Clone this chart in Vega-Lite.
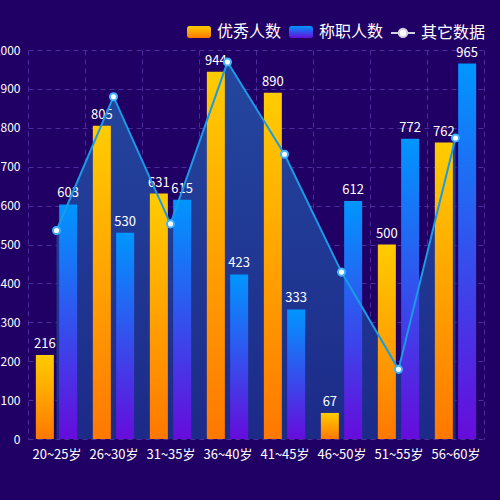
{
  "$schema": "https://vega.github.io/schema/vega-lite/v6.json",
  "width": 456,
  "height": 389,
  "autosize": {"type": "none"},
  "padding": {"left": 28, "top": 50, "right": 16, "bottom": 61},
  "background": "#200064",
  "config": {
    "font": "Noto Sans CJK SC",
    "view": {"stroke": null},
    "axisY": {
      "title": null, "tickCount": 12, "labelOverlap": false,
      "labelColor": "#ffffff", "labelFontSize": 12, "labelPadding": 8,
      "domain": false, "ticks": false, "tickSize": 0, "grid": true,
      "gridColor": "#4b2d9c", "gridDash": [5, 4]
    }
  },
  "datasets": {
    "bars": [
      {"age": "20~25岁", "series": "优秀人数", "value": 216},
      {"age": "20~25岁", "series": "称职人数", "value": 603},
      {"age": "26~30岁", "series": "优秀人数", "value": 805},
      {"age": "26~30岁", "series": "称职人数", "value": 530},
      {"age": "31~35岁", "series": "优秀人数", "value": 631},
      {"age": "31~35岁", "series": "称职人数", "value": 615},
      {"age": "36~40岁", "series": "优秀人数", "value": 944},
      {"age": "36~40岁", "series": "称职人数", "value": 423},
      {"age": "41~45岁", "series": "优秀人数", "value": 890},
      {"age": "41~45岁", "series": "称职人数", "value": 333},
      {"age": "46~50岁", "series": "优秀人数", "value": 67},
      {"age": "46~50岁", "series": "称职人数", "value": 612},
      {"age": "51~55岁", "series": "优秀人数", "value": 500},
      {"age": "51~55岁", "series": "称职人数", "value": 772},
      {"age": "56~60岁", "series": "优秀人数", "value": 762},
      {"age": "56~60岁", "series": "称职人数", "value": 965}
    ],
    "line": [
      {"age": "20~25岁", "other": 536},
      {"age": "26~30岁", "other": 880},
      {"age": "31~35岁", "other": 553},
      {"age": "36~40岁", "other": 969},
      {"age": "41~45岁", "other": 732},
      {"age": "46~50岁", "other": 429},
      {"age": "51~55岁", "other": 179},
      {"age": "56~60岁", "other": 774}
    ]
  },
  "layer": [
    {
      "data": {"name": "line"},
      "mark": {
        "type": "area",
        "color": {
          "gradient": "linear", "x1": 0, "y1": 0, "x2": 0, "y2": 1,
          "stops": [
            {"offset": 0, "color": "#24479f"},
            {"offset": 1, "color": "#1c2a88"}
          ]
        }
      },
      "encoding": {
        "x": {
          "field": "age", "type": "nominal",
          "scale": {
            "domain": ["20~25岁", "26~30岁", "31~35岁", "36~40岁", "41~45岁", "46~50岁", "51~55岁", "56~60岁"],
            "paddingInner": 0, "paddingOuter": 0
          },
          "axis": {
            "title": null, "labelAngle": 0, "labelColor": "#ffffff", "labelFontSize": 13,
            "labelPadding": 9, "domain": false, "ticks": false, "tickSize": 0,
            "grid": true, "tickBand": "extent", "gridColor": "#4b2d9c", "gridDash": [5, 4]
          }
        },
        "y": {
          "field": "other", "type": "quantitative", "stack": null,
          "scale": {"domain": [0, 1000], "nice": false},
          "axis": {"values": [0, 100, 200, 300, 400, 500, 600, 700, 800, 900, 1000]}
        }
      }
    },
    {
      "data": {"name": "bars"},
      "mark": {"type": "bar"},
      "encoding": {
        "x": {"field": "age", "type": "nominal"},
        "xOffset": {
          "field": "series", "type": "nominal",
          "scale": {"domain": ["优秀人数", "称职人数"], "paddingInner": 0.227, "paddingOuter": 0.337}
        },
        "y": {"field": "value", "type": "quantitative"},
        "color": {
          "field": "series", "type": "nominal",
          "scale": {
            "domain": ["优秀人数", "称职人数", "其它数据"],
            "range": [
              {"expr": "{gradient: 'linear', x1: 0, y1: 0, x2: 0, y2: 1, stops: [{offset: 0, color: '#ffcc00'}, {offset: 1, color: '#ff7800'}]}"},
              {"expr": "{gradient: 'linear', x1: 0, y1: 0, x2: 0, y2: 1, stops: [{offset: 0, color: '#0096ff'}, {offset: 1, color: '#660cdb'}]}"},
              "#ffffff"
            ]
          },
          "legend": {
            "title": null, "orient": "none", "direction": "horizontal",
            "legendX": 158, "legendY": -31, "padding": 0,
            "labelColor": "#ffffff", "labelFontSize": 16, "labelOffset": 5,
            "columnPadding": 3, "symbolSize": 576,
            "encode": {
              "symbols": {
                "update": {
                  "shape": {"signal": "datum.value === '其它数据' ? 'M-1,0H-0.35M0.35,0H1M0.35,0A0.35,0.35 0 1 1 -0.35,0A0.35,0.35 0 1 1 0.35,0Z' : 'M-0.8,-0.5H0.8A0.2,0.2 0 0 1 1,-0.3V0.3A0.2,0.2 0 0 1 0.8,0.5H-0.8A0.2,0.2 0 0 1 -1,0.3V-0.3A0.2,0.2 0 0 1 -0.8,-0.5Z'"},
                  "stroke": {"signal": "datum.value === '其它数据' ? '#d0d0e0' : 'transparent'"},
                  "strokeWidth": {"value": 2},
                  "opacity": {"value": 1}
                }
              }
            }
          }
        }
      }
    },
    {
      "data": {"name": "bars"},
      "mark": {"type": "text", "baseline": "bottom", "dy": -4, "fontSize": 13, "color": "#ffffff"},
      "encoding": {
        "x": {"field": "age", "type": "nominal"},
        "xOffset": {"field": "series", "type": "nominal"},
        "y": {"field": "value", "type": "quantitative"},
        "text": {"field": "value", "type": "quantitative"}
      }
    },
    {
      "data": {"name": "line"},
      "mark": {"type": "line", "color": "#1a9be6", "strokeWidth": 2},
      "encoding": {
        "x": {"field": "age", "type": "nominal"},
        "y": {"field": "other", "type": "quantitative"}
      }
    },
    {
      "data": {"name": "line"},
      "mark": {"type": "point", "filled": true, "size": 50, "opacity": 1, "stroke": "#3fb2ff", "strokeWidth": 2},
      "encoding": {
        "x": {"field": "age", "type": "nominal"},
        "y": {"field": "other", "type": "quantitative"},
        "color": {"datum": "其它数据"}
      }
    }
  ]
}
